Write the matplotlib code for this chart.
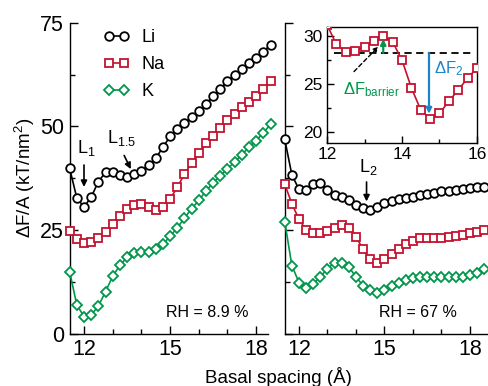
import matplotlib
matplotlib.use('Agg')
import matplotlib.pyplot as plt
from matplotlib.ticker import MultipleLocator
from matplotlib.lines import Line2D

plt.rcParams['font.family'] = ['Liberation Sans', 'DejaVu Sans']
plt.rcParams['mathtext.fontset'] = 'custom'
plt.rcParams['mathtext.rm'] = 'Liberation Sans'
plt.rcParams['mathtext.it'] = 'Liberation Sans:italic'
plt.rcParams['mathtext.bf'] = 'Liberation Sans:bold'

# ---------------- data ----------------
spacing = [11.5, 11.75, 12.0, 12.25, 12.5, 12.75, 13.0, 13.25, 13.5, 13.75,
           14.0, 14.25, 14.5, 14.75, 15.0, 15.25, 15.5, 15.75, 16.0, 16.25,
           16.5, 16.75, 17.0, 17.25, 17.5, 17.75, 18.0, 18.25, 18.5]

# RH = 8.9 %
li_low = [39.9, 32.7, 30.6, 32.9, 36.7, 38.9, 38.9, 38.3, 37.9, 38.5,
          39.3, 40.7, 42.3, 45.0, 47.6, 49.3, 50.8, 52.3, 53.8, 55.5,
          57.3, 59.1, 60.9, 62.5, 64.0, 65.4, 66.6, 68.1, 69.7]
na_low = [24.8, 22.8, 21.9, 22.0, 23.0, 24.6, 26.4, 28.4, 30.0, 31.0,
          31.4, 30.6, 29.8, 30.5, 32.5, 35.3, 38.5, 41.2, 43.6, 45.9,
          47.6, 49.6, 51.5, 53.0, 54.6, 56.0, 57.3, 59.0, 61.0]
k_low = [14.9, 6.9, 4.1, 4.5, 6.6, 10.1, 13.8, 16.5, 18.4, 19.5,
         19.8, 19.6, 20.4, 21.5, 23.5, 25.5, 27.9, 30.1, 32.2, 34.4,
         36.4, 38.1, 39.8, 41.4, 43.2, 45.0, 46.6, 48.5, 50.5]

# RH = 67 %
li_high = [46.9, 38.3, 34.8, 34.7, 36.2, 36.3, 34.7, 33.5, 32.9, 32.2,
           31.0, 30.2, 29.8, 30.6, 31.6, 32.0, 32.4, 32.8, 33.0, 33.4,
           33.7, 34.0, 34.3, 34.5, 34.7, 34.9, 35.1, 35.3, 35.5]
na_high = [36.1, 31.3, 27.6, 25.0, 24.2, 24.3, 24.8, 25.6, 26.2, 25.6,
           23.4, 20.3, 18.0, 17.1, 18.0, 19.2, 20.4, 21.6, 22.4, 23.0,
           23.1, 23.1, 23.1, 23.4, 23.6, 23.8, 24.2, 24.6, 25.0]
k_high = [27.0, 16.4, 12.3, 10.9, 12.0, 13.7, 15.7, 17.1, 17.1, 16.0,
          13.7, 11.5, 10.5, 9.9, 10.5, 11.5, 12.3, 12.9, 13.3, 13.6,
          13.6, 13.6, 13.6, 13.6, 13.7, 13.7, 14.1, 14.5, 15.5]

# inset (Na)
inset_x = [12.0, 12.25, 12.5, 12.75, 13.0, 13.25, 13.5, 13.75, 14.0, 14.25,
           14.5, 14.75, 15.0, 15.25, 15.5, 15.75, 16.0]
inset_y = [31.2, 29.13, 28.37, 28.47, 28.9, 29.48, 30.0, 29.4, 27.5, 24.6,
           22.3, 21.4, 21.95, 23.2, 24.4, 25.6, 26.7]
barrier_level = 28.26
barrier_top = 29.7
f2_bottom = 21.9

ions = ['Li', 'Na', 'K']

RED = '#C4122F'
GREEN = '#00964B'
BLUE = '#1A86C8'
styles = {
    'Li': dict(color='black', marker='o', ms=6.2),
    'Na': dict(color=RED, marker='s', ms=5.4),
    'K': dict(color=GREEN, marker='D', ms=4.6),
}

W, H = 489, 386
fig = plt.figure(figsize=(W / 100, H / 100), dpi=100)

axL = fig.add_axes([69.65 / W, 52.5 / H, 198 / W, 310.5 / H])
axR = fig.add_axes([284.75 / W, 52.5 / H, 204 / W, 310.5 / H])


def draw(ax, series):
    for name, ys in zip(ions, series):
        st = styles[name]
        ax.plot(spacing, ys, color=st['color'], lw=1.2, marker=st['marker'],
                ms=st['ms'], mfc='white', mec=st['color'], mew=1.3,
                clip_on=False, zorder=3)


draw(axL, [li_low, na_low, k_low])
draw(axR, [li_high, na_high, k_high])

for ax, xr in ((axL, 18.4), (axR, 11.5 + 204 / 28.5)):
    ax.set_xlim(11.5, xr)
    ax.set_ylim(0, 75)
    for s in ('top', 'right'):
        ax.spines[s].set_visible(False)
    for s in ('left', 'bottom'):
        ax.spines[s].set_linewidth(1.0)
    ax.xaxis.set_major_locator(MultipleLocator(3))
    ax.xaxis.set_minor_locator(MultipleLocator(1))
    ax.yaxis.set_major_locator(MultipleLocator(25))
    ax.yaxis.set_minor_locator(MultipleLocator(12.5))
    ax.tick_params(which='major', direction='in', length=6, width=1.0,
                   labelsize=15.5, pad=4)
    ax.tick_params(which='minor', direction='in', length=3.5, width=1.0)
    ax.patch.set_alpha(0)

axR.tick_params(axis='y', labelleft=False)

axL.set_ylabel(r'ΔF/A (kT/nm$^{\mathregular{2}}$)', fontsize=13.5)
axL.yaxis.set_label_coords(-0.165, 0.5)
fig.text(278 / W, 1 - 377 / H, 'Basal spacing (Å)', fontsize=13.5,
         ha='center', va='center')

# legend
handles = [Line2D([], [], color=styles[n]['color'], lw=1.2,
                  marker=styles[n]['marker'], ms=styles[n]['ms'], mfc='white',
                  mec=styles[n]['color'], mew=1.3) for n in ions]
axL.legend(handles, ions, loc='upper left',
           bbox_to_anchor=(104 / W, 1 - 29 / H), bbox_transform=fig.transFigure,
           frameon=False, numpoints=2, handlelength=1.4, handletextpad=0.7,
           labelspacing=0.55, borderpad=0, borderaxespad=0, fontsize=13)

# RH labels
axL.text(16.29, 5.1, 'RH = 8.9 %', fontsize=11.5, ha='center', va='center')
axR.text(16.18, 5.1, 'RH = 67 %', fontsize=11.5, ha='center', va='center')

arrow_kw = dict(arrowstyle='-|>', color='black', lw=1.2, mutation_scale=9,
                shrinkA=0, shrinkB=0)
# L labels
axL.text(12.07, 44.8, r'$\mathregular{L_1}$', fontsize=13, ha='center', va='center')
axL.annotate('', xy=(12.0, 35.4), xytext=(12.0, 40.7), arrowprops=arrow_kw)
axL.text(13.32, 47.3, r'$\mathregular{L_{1.5}}$', fontsize=13, ha='center', va='center')
axL.annotate('', xy=(13.63, 39.7), xytext=(13.4, 43.0), arrowprops=arrow_kw)
axR.text(14.42, 40.2, r'$\mathregular{L_2}$', fontsize=13, ha='center', va='center')
axR.annotate('', xy=(14.37, 31.9), xytext=(14.37, 36.6), arrowprops=arrow_kw)

# inset
axI = fig.add_axes([327 / W, 243 / H, 150 / W, 116 / H])
axI.plot(inset_x, inset_y, color=RED, lw=1.2, marker='s', ms=5.4, mfc='white',
         mec=RED, mew=1.3, zorder=3)
axI.set_xlim(12, 16)
axI.set_ylim(18.85, 30.95)
axI.xaxis.set_major_locator(MultipleLocator(2))
axI.xaxis.set_minor_locator(MultipleLocator(1))
axI.yaxis.set_major_locator(MultipleLocator(5))
axI.yaxis.set_minor_locator(MultipleLocator(2.5))
axI.tick_params(which='major', direction='in', length=5, width=1.0,
                labelsize=12.5, pad=3)
axI.tick_params(which='minor', direction='in', length=3, width=1.0)
for s in axI.spines.values():
    s.set_linewidth(1.0)

axI.plot([12.2, 15.85], [barrier_level, barrier_level], color='black', lw=1.3,
         dashes=(4, 2.5), zorder=2)
axI.annotate('', xy=(13.5, barrier_top), xytext=(13.5, barrier_level),
             arrowprops=dict(arrowstyle='-|>', color=GREEN, lw=1.6,
                             mutation_scale=8, shrinkA=0, shrinkB=0), zorder=4)
axI.annotate('', xy=(14.72, f2_bottom), xytext=(14.72, barrier_level),
             arrowprops=dict(arrowstyle='-|>', color=BLUE, lw=1.6,
                             mutation_scale=8, shrinkA=0, shrinkB=0), zorder=4)
axI.annotate('', xy=(13.37, 28.9), xytext=(12.72, 26.3),
             arrowprops=dict(arrowstyle='-|>', color='black', lw=1.0,
                             linestyle=(0, (3, 2)), mutation_scale=7,
                             shrinkA=0, shrinkB=0), zorder=4)
axI.text(12.42, 24.4, r'$\mathregular{\Delta F_{barrier}}$', color=GREEN,
         fontsize=12, ha='left', va='center')
axI.text(14.85, 26.6, r'$\mathregular{\Delta F_2}$', color=BLUE,
         fontsize=12, ha='left', va='center')

fig.savefig('out.png', dpi=100)
